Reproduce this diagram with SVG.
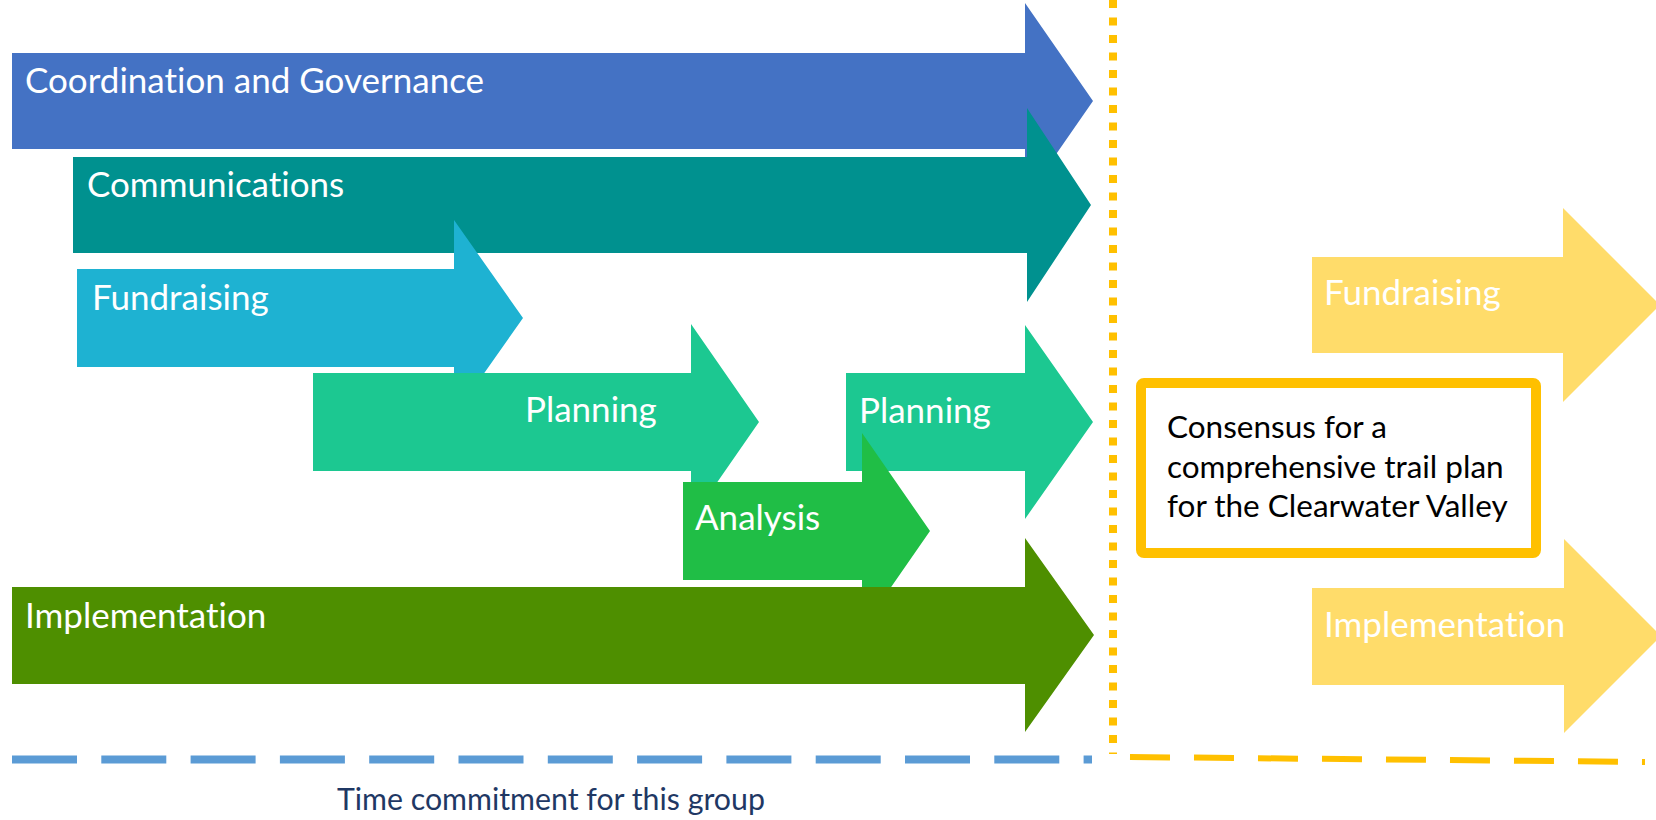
<svg xmlns="http://www.w3.org/2000/svg" width="1656" height="820" viewBox="0 0 1656 820">
<style>
text{font-variant-ligatures:none}
.lbl{font-family:Lato,"Liberation Sans",sans-serif;font-size:35px;fill:#ffffff}
.box{font-family:Lato,"Liberation Sans",sans-serif;font-size:31.5px;fill:#000000}
.cap{font-family:Lato,"Liberation Sans",sans-serif;font-size:30.3px;fill:#1F3864}
</style>
<rect width="1656" height="820" fill="#ffffff"/>
<g id="coordination">
<polygon points="12,53 1025,53 1025,3 1093,101 1025,199 1025,149 12,149" fill="#4472C4"/>
<text class="lbl" x="25" y="93">Coordination and Governance</text>
</g>
<g id="communications">
<polygon points="73,157 1027,157 1027,108 1091,205 1027,302 1027,253 73,253" fill="#00918F"/>
<text class="lbl" x="87" y="197">Communications</text>
</g>
<g id="fundraising">
<polygon points="77,269 454,269 454,220 523,318 454,416 454,367 77,367" fill="#1EB2D2"/>
<text class="lbl" x="92" y="310">Fundraising</text>
</g>
<g id="planning1">
<polygon points="313,373 691,373 691,324 759,422 691,520 691,471 313,471" fill="#1CC891"/>
<text class="lbl" x="525" y="422">Planning</text>
</g>
<g id="planning2">
<polygon points="846,373 1025,373 1025,325 1093,422 1025,519 1025,471 846,471" fill="#1CC891"/>
<text class="lbl" x="859" y="423">Planning</text>
</g>
<g id="analysis">
<polygon points="683,482 862,482 862,433 930,531 862,629 862,580 683,580" fill="#20BE46"/>
<text class="lbl" x="695" y="530">Analysis</text>
</g>
<g id="implementation">
<polygon points="12,587 1025,587 1025,538 1094,635 1025,732 1025,684 12,684" fill="#4E8F00"/>
<text class="lbl" x="25" y="628">Implementation</text>
</g>
<g id="future-fundraising">
<polygon points="1312,257 1563,257 1563,208 1660,305 1563,402 1563,353 1312,353" fill="#FFDC6A"/>
<text class="lbl" x="1324" y="305">Fundraising</text>
</g>
<g id="future-implementation">
<polygon points="1312,588 1564,588 1564,539 1661,636 1564,733 1564,685 1312,685" fill="#FFDC6A"/>
<text class="lbl" x="1324" y="637">Implementation</text>
</g>
<g id="consensus">
<rect x="1141" y="383" width="395" height="170" rx="3" fill="#ffffff" stroke="#FFC000" stroke-width="10"/>
<text class="box" x="1167" y="438">Consensus for a</text>
<text class="box" x="1167" y="478">comprehensive trail plan</text>
<text class="box" x="1167" y="517">for the Clearwater Valley</text>
</g>
<g id="connectors">
<line x1="1113" y1="0" x2="1113" y2="754" stroke="#FFC000" stroke-width="8" stroke-dasharray="8 9.5"/>
<line x1="12" y1="759.5" x2="1092" y2="759.5" stroke="#5B9BD5" stroke-width="8" stroke-dasharray="65 24.3"/>
<line x1="1130" y1="757" x2="1645" y2="762" stroke="#FFC000" stroke-width="6" stroke-dasharray="40 24"/>
</g>
<text class="cap" x="337" y="810">Time commitment for this group</text>
</svg>
